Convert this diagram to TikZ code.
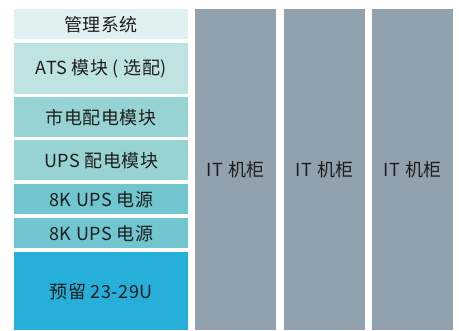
\documentclass[tikz,border=0pt]{standalone}
\usepackage{fontspec}
\setmainfont[LetterSpace=3]{Noto Sans CJK SC}
\definecolor{mgmtfill}{HTML}{E1F1F1}
\definecolor{atsfill}{HTML}{BFE3E3}
\definecolor{pdufill}{HTML}{97D3D2}
\definecolor{upsfill}{HTML}{70C5CF}
\definecolor{sparefill}{HTML}{26AFD8}
\definecolor{rackfill}{HTML}{91A1AE}
\definecolor{labeltext}{HTML}{1E1E1E}
\def\ColL{14}
\def\ColW{174}
\def\RackTop{9}
\def\RackH{321}
\def\RackW{81}

\begin{document}
\begin{tikzpicture}[x=1pt,y=-1pt,
  module/.style={inner sep=0pt,anchor=north west,text=labeltext,
    font=\fontsize{18}{18}\selectfont},
  rack/.style={module,fill=rackfill,minimum width=\RackW pt,minimum height=\RackH pt}]
\useasboundingbox (0,0) rectangle (459,331);

% left column, top to bottom
\foreach \name/\top/\bot/\col/\txt in {
  mgmt/9/39/mgmtfill/{管理系统},
  ats/43/94/atsfill/{ATS 模块 ( 选配)},
  mains/97/137/pdufill/{市电配电模块},
  upspdu/140/180/pdufill/{UPS 配电模块},
  upsa/184/214/upsfill/{8K UPS 电源},
  upsb/218/248/upsfill/{8K UPS 电源},
  spare/252/330/sparefill/{预留 23-29U}}{
  \pgfmathsetmacro\h{\bot-\top}
  \node[module,fill=\col,minimum width=\ColW pt,minimum height=\h pt] (\name) at (\ColL,\top) {\txt};
}

% IT racks
\node[rack] (racka) at (195,\RackTop) {IT 机柜};
\node[rack] (rackb) at (284,\RackTop) {IT 机柜};
\node[rack] (rackc) at (372,\RackTop) {IT 机柜};
\end{tikzpicture}
\end{document}
